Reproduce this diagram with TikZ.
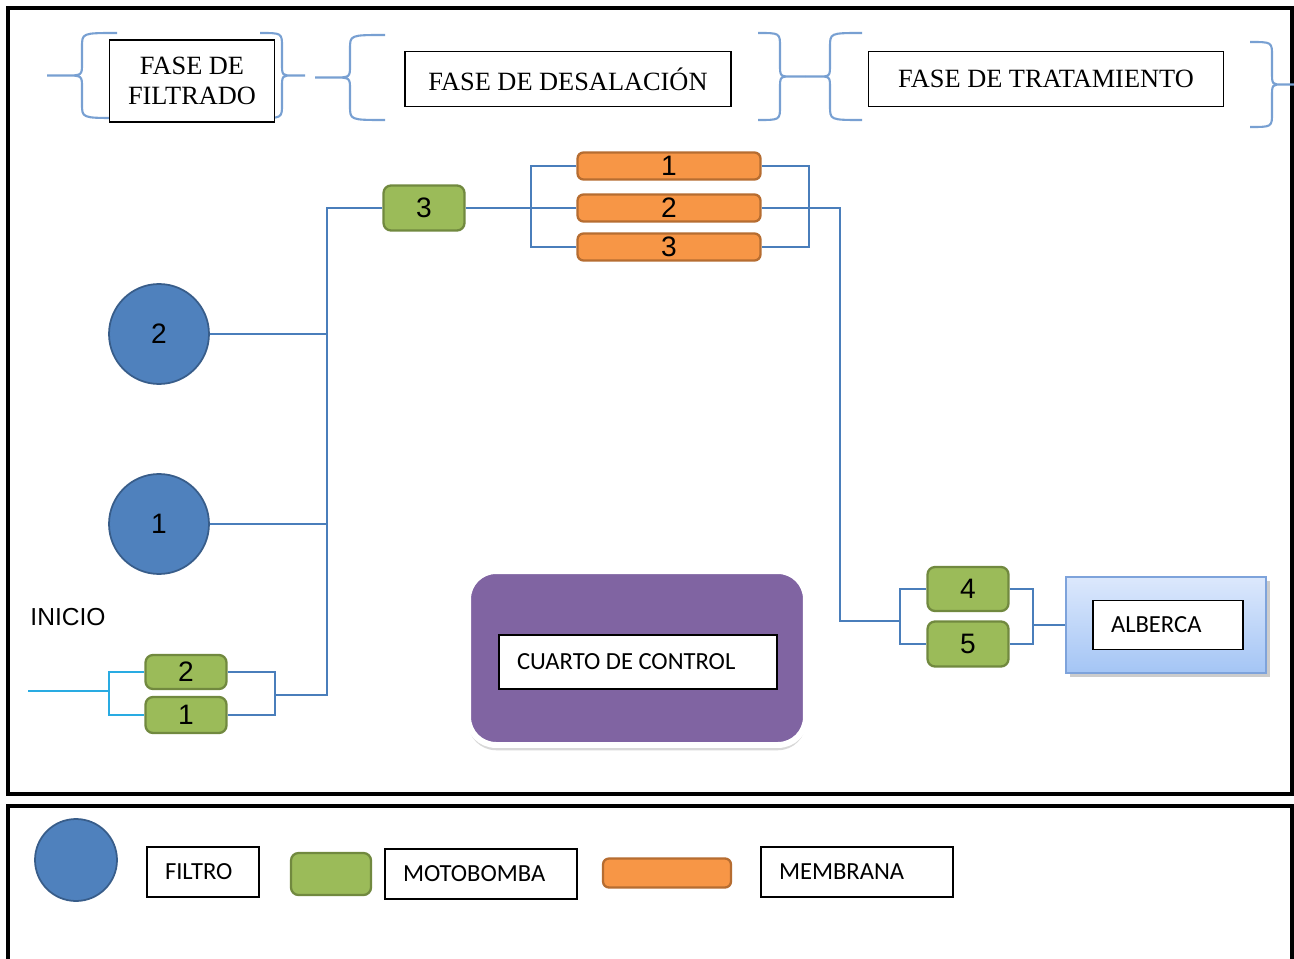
\documentclass[tikz,border=0pt]{standalone}
\usepackage{fontspec}
\setmainfont{Liberation Serif}
\newfontfamily\arial{Liberation Sans}
\newfontfamily\calibri{Carlito}
\usetikzlibrary{shadows}

\definecolor{azulfiltro}{RGB}{79,129,189}
\definecolor{bordeazul}{RGB}{56,93,138}
\definecolor{verde}{RGB}{155,187,89}
\definecolor{bordeverde}{RGB}{113,137,63}
\definecolor{naranja}{RGB}{247,150,70}
\definecolor{bordenaranja}{RGB}{182,109,49}
\definecolor{morado}{RGB}{128,100,162}
\definecolor{azultubo}{RGB}{74,126,187}
\definecolor{celeste}{RGB}{41,171,226}
\definecolor{azulllave}{RGB}{120,160,210}
\definecolor{albercaarriba}{RGB}{220,232,252}
\definecolor{albercaabajo}{RGB}{164,197,245}
\definecolor{bordealberca}{RGB}{126,163,219}

\newcommand{\llave}[5]{%
  \draw[llaves] (#3,#4) .. controls (#2,#4) .. (#2,#4+14)
    -- (#2,{(#4+#5)/2-12}) .. controls (#2,{(#4+#5)/2}) .. ({(#1+#2)/2},{(#4+#5)/2})
    -- (#1,{(#4+#5)/2})
    ({(#1+#2)/2},{(#4+#5)/2}) .. controls (#2,{(#4+#5)/2}) .. (#2,{(#4+#5)/2+12})
    -- (#2,#5-14) .. controls (#2,#5) .. (#3,#5);}

\begin{document}
\begin{tikzpicture}[x=0.02cm,y=-0.02cm,
  filtro/.style={circle,draw=bordeazul,fill=azulfiltro,line width=1pt,minimum size=2cm,inner sep=0pt,font=\arial\fontsize{16}{18}\selectfont},
  motobomba/.style={rectangle,rounded corners=0.15cm,draw=bordeverde,fill=verde,line width=1.3pt,minimum width=1.62cm,minimum height=0.9cm,inner sep=0pt,font=\arial\fontsize{16}{18}\selectfont},
  membrana/.style={rectangle,rounded corners=0.12cm,draw=bordenaranja,fill=naranja,line width=1.3pt,minimum width=3.66cm,minimum height=0.54cm,inner sep=0pt,font=\arial\fontsize{16}{18}\selectfont},
  fase/.style={draw,line width=0.8pt,fill=white,align=center,inner sep=0pt,font=\fontsize{15}{17}\selectfont},
  etiqueta/.style={draw,line width=0.8pt,fill=white,align=flush left,inner xsep=0.36cm,inner ysep=0pt,font=\calibri\fontsize{14}{16}\selectfont},
  tubo/.style={draw=azultubo,line width=1.1pt},
  entrada/.style={draw=celeste,line width=1.1pt},
  llaves/.style={draw=azulllave,line width=1.2pt},
  marco/.style={draw=black,line width=1.8pt}]

\useasboundingbox[fill=white] (0,0) rectangle (1294,959);
\draw[marco] (8,8) rectangle (1292,794);
\draw[marco] (8,959) -- (8,806) -- (1292,806) -- (1292,959);

% fases
\llave{47}{82}{117}{33}{118}
\llave{305}{282}{260}{33}{118}
\llave{315}{350}{385}{35}{120}
\llave{805}{780}{758}{33}{120}
\llave{805}{830}{862}{33}{120}
\llave{1294}{1272}{1250}{42}{127}
\node[fase,minimum width=3.3cm,minimum height=1.64cm] (filtrado) at (192,81) {FASE DE\\FILTRADO};
\node[fase,minimum width=6.52cm,minimum height=1.1cm] (desalacion) at (568,79) {FASE DE DESALACI\'ON};
\node[fase,minimum width=7.1cm,minimum height=1.1cm] (tratamiento) at (1046,79) {FASE DE TRATAMIENTO};

% equipos
\node[filtro] (f2) at (159,334) {2};
\node[filtro] (f1) at (159,524) {1};
\node[motobomba] (mb3) at (424,208) {3};
\node[membrana] (m1) at (669,166) {1};
\node[membrana] (m2) at (669,208) {2};
\node[membrana] (m3) at (669,247) {3};
\node[motobomba,minimum height=0.68cm] (mbb2) at (186,672) {2};
\node[motobomba,minimum height=0.72cm] (mbb1) at (186,715) {1};
\node[motobomba,minimum height=0.88cm] (mb4) at (968,589) {4};
\node[motobomba,minimum height=0.9cm] (mb5) at (968,644) {5};
\node[rectangle,draw=bordealberca,line width=1.2pt,top color=albercaarriba,bottom color=albercaabajo,minimum width=4cm,minimum height=1.92cm,drop shadow={shadow xshift=2pt,shadow yshift=-2pt,opacity=0.4}] (alberca) at (1166,625) {};
\node[etiqueta,text width=2.28cm,minimum height=0.98cm] (lalberca) at (1168,625) {ALBERCA};
\node[rectangle,rounded corners=0.56cm,draw=white,line width=3.4pt,fill=morado,minimum width=6.76cm,minimum height=3.48cm,drop shadow={shadow xshift=0pt,shadow yshift=-3pt,opacity=0.3}] (cuarto) at (637,658) {};
\node[etiqueta,text width=4.84cm,minimum height=1.08cm] (lcuarto) at (638,662) {CUARTO DE CONTROL};
\node[font=\arial\fontsize{14}{16}\selectfont] (inicio) at (68,617) {INICIO};

% tuberias
\coordinate (ent) at (28,691);
\coordinate (je) at (109,691);
\coordinate (jb) at (275,695);
\coordinate (col) at (327,695);
\coordinate (jm) at (531,208);
\coordinate (jd) at (809,208);
\coordinate (baj) at (840,621);
\coordinate (j45) at (900,621);
\coordinate (j45d) at (1033,625);
\draw[entrada] (ent) -- (je);
\draw[entrada] (mbb2.west) -| (je) |- (mbb1.west);
\draw[tubo] (mbb2.east) -| (jb) |- (mbb1.east);
\draw[tubo] (jb) -- (col) |- (mb3.west);
\draw[tubo] (f2.east) -- (f2.east -| col);
\draw[tubo] (f1.east) -- (f1.east -| col);
\draw[tubo] (mb3.east) -- (m2.west);
\draw[tubo] (m1.west) -| (jm) |- (m3.west);
\draw[tubo] (m1.east) -| (jd) |- (m3.east);
\draw[tubo] (m2.east) -| (baj) -- (j45);
\draw[tubo] (mb4.west) -| (j45) |- (mb5.west);
\draw[tubo] (mb4.east) -| (j45d) |- (mb5.east);
\draw[tubo] (j45d) -- (alberca.west);

% leyenda
\node[filtro,minimum size=1.64cm] (lfiltro) at (76,860) {};
\node[etiqueta,text width=1.52cm,minimum height=1cm] (tfiltro) at (203,872) {FILTRO};
\node[motobomba,minimum width=1.6cm,minimum height=0.84cm] (lmoto) at (331,874) {};
\node[etiqueta,text width=3.12cm,minimum height=1cm] (tmoto) at (481,874) {MOTOBOMBA};
\node[membrana,minimum width=2.56cm,minimum height=0.58cm] (lmemb) at (667,873) {};
\node[etiqueta,text width=3.12cm,minimum height=1cm] (tmemb) at (857,872) {MEMBRANA};
\end{tikzpicture}
\end{document}
